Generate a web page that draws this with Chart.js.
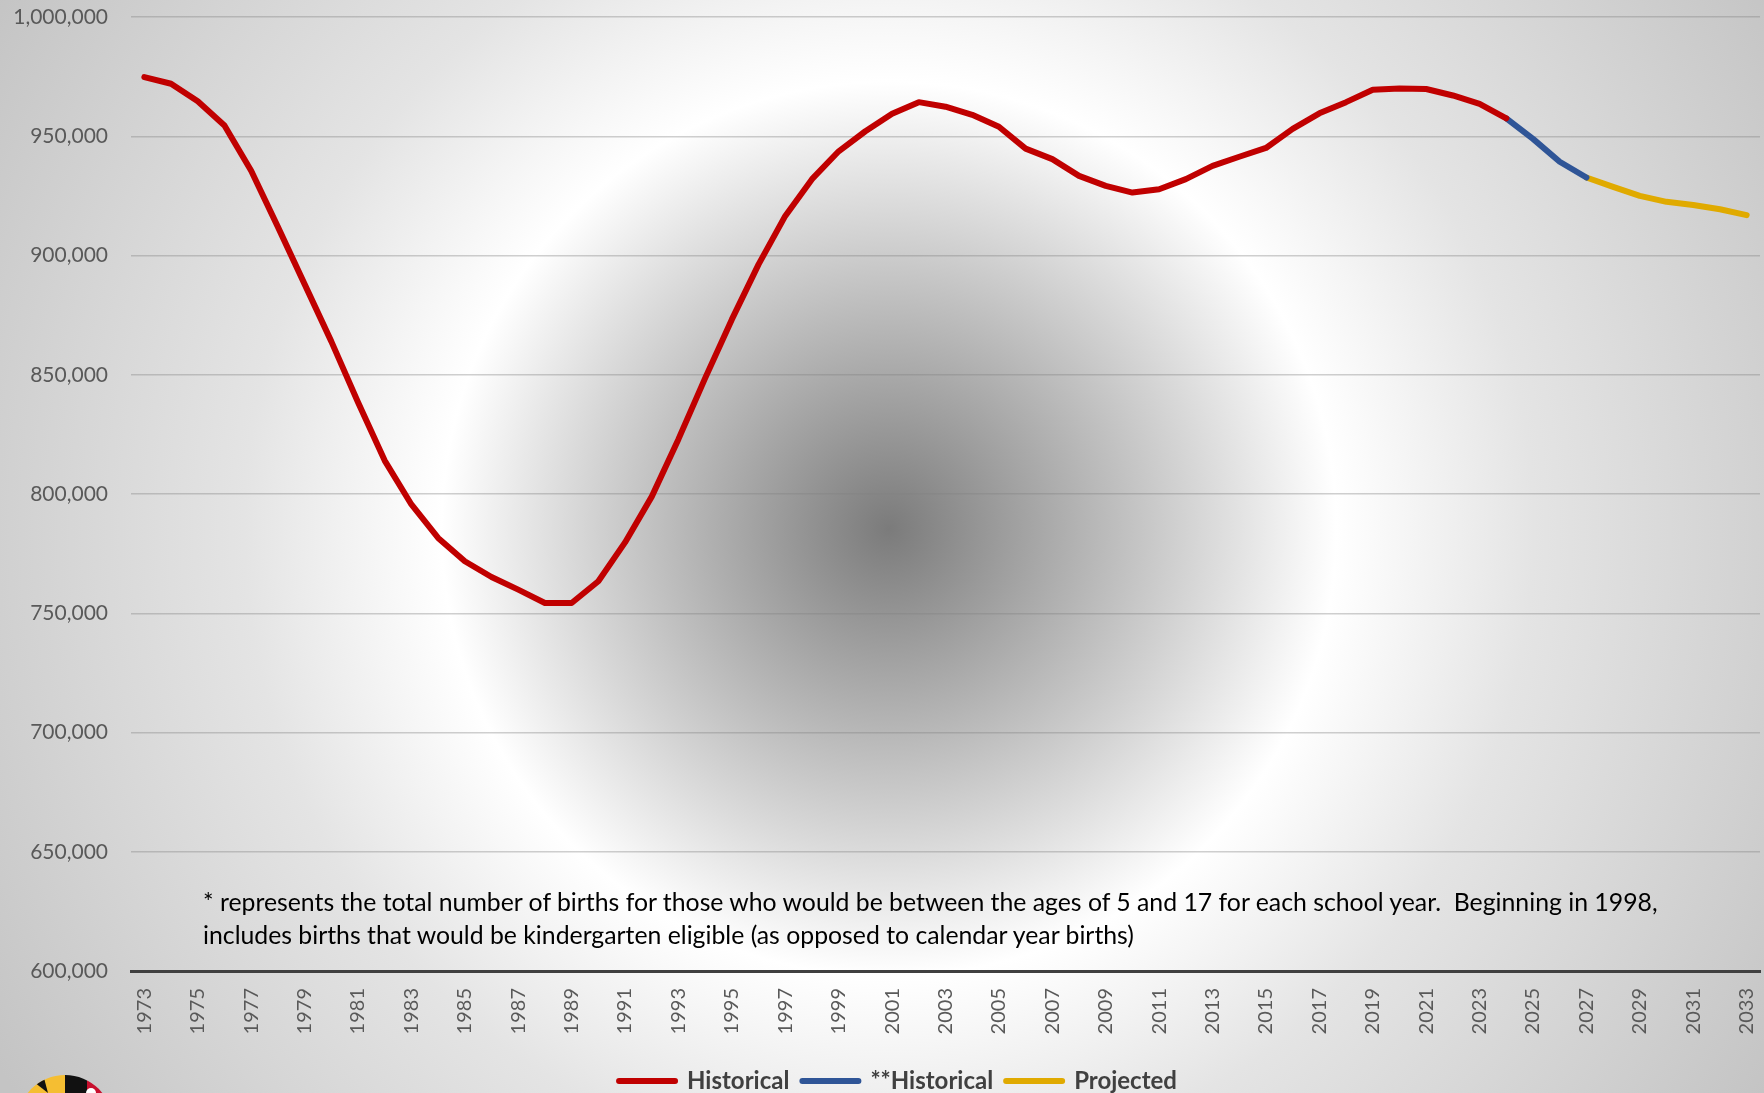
<!DOCTYPE html>
<html>
<head>
<meta charset="utf-8">
<title>Births</title>
<script src="https://cdn.jsdelivr.net/npm/chart.js@4.4.1/dist/chart.umd.min.js"></script>
<style>
    html, body { margin: 0; padding: 0; overflow: hidden; background: #d4d4d4; }
    #wrap { position: relative; width: 1764px; height: 1093px; }
    #births { position: absolute; left: 0; top: 0; }
    #note {
        position: absolute; left: 203px; top: 885px;
        font-family: Lato, sans-serif; font-size: 24.8px; line-height: 33px;
        color: #000; white-space: nowrap;
    }
</style>
</head>
<body>
<div id="wrap">
    <canvas id="births" width="1764" height="1103"></canvas>
    <div id="note">* represents the total number of births for those who would be between the ages of 5 and 17 for each school year.&nbsp; Beginning in 1998,<br>includes births that would be kindergarten eligible (as opposed to calendar year births)</div>
</div>
<script>
const years = [
    '1973', '1974', '1975', '1976', '1977', '1978', '1979', '1980', '1981', '1982',
    '1983', '1984', '1985', '1986', '1987', '1988', '1989', '1990', '1991', '1992',
    '1993', '1994', '1995', '1996', '1997', '1998', '1999', '2000', '2001', '2002',
    '2003', '2004', '2005', '2006', '2007', '2008', '2009', '2010', '2011', '2012',
    '2013', '2014', '2015', '2016', '2017', '2018', '2019', '2020', '2021', '2022',
    '2023', '2024', '2025', '2026', '2027', '2028', '2029', '2030', '2031', '2032',
    '2033'
];

// 1973 - 2024
const historical = [
    974800, 972000, 964700, 954500, 935500, 912000, 888000, 864000, 838500, 814000,
    795600, 781600, 771800, 765200, 759900, 754300, 754300, 763400, 779700, 798900,
    823000, 848600, 873200, 896300, 916600, 932000, 943700, 952100, 959400, 964300,
    962400, 959000, 954000, 944800, 940400, 933400, 929200, 926400, 927800, 932000,
    937600, 941400, 945100, 953100, 959600, 964300, 969500, 970000, 969800, 967100,
    963600, 957500
];

// 2024 - 2027
const historical2 = [957500, 948900, 939300, 932700];

// 2027 - 2033
const projected = [932700, 928800, 925000, 922500, 921200, 919400, 916900];

const yTicks = { min: 600000, max: 1000000, step: 50000 };

let birthsChart;

function placeSeries(values, firstYear) {
    const start = years.indexOf(firstYear);
    return years.map((y, i) => (i >= start && i < start + values.length) ? values[i - start] : null);
}

const backdrop = {
    id: 'backdrop',
    beforeDraw(chart) {
        const ctx = chart.ctx;
        const g = ctx.createRadialGradient(889, 529, 0, 889, 529, 1040);
        g.addColorStop(0, '#7b7b7b');
        g.addColorStop(0.43, '#ffffff');
        g.addColorStop(0.62, '#e4e4e4');
        g.addColorStop(1, '#c4c4c4');
        ctx.save();
        ctx.fillStyle = g;
        ctx.fillRect(0, 0, chart.width, chart.height);
        ctx.restore();
    }
};

// legend sits a bit right of the page centre in the original
const legendNudge = {
    id: 'legendNudge',
    afterLayout(chart) {
        chart.legend.left += 18;
        chart.legend.right += 18;
    }
};

// little state logo peeking in at the bottom left
const logo = {
    id: 'logo',
    afterDraw(chart) {
        const ctx = chart.ctx;
        ctx.save();
        ctx.beginPath();
        ctx.arc(65, 1123, 48, 0, Math.PI * 2);
        ctx.clip();
        ctx.fillStyle = '#f5be32';
        ctx.fillRect(17, 1075, 48, 60);
        ctx.fillStyle = '#111';
        ctx.fillRect(65, 1075, 22, 60);
        ctx.beginPath();
        ctx.moveTo(34, 1082); ctx.lineTo(44, 1078); ctx.lineTo(48, 1093); ctx.closePath();
        ctx.fill();
        ctx.fillStyle = '#c8102e';
        ctx.fillRect(87, 1075, 30, 60);
        ctx.fillStyle = '#fff';
        ctx.beginPath();
        ctx.arc(91, 1093, 5, 0, Math.PI * 2);
        ctx.fill();
        ctx.restore();
    }
};

function initializeChart() {
    const ctx = document.getElementById('births').getContext('2d');

    birthsChart = new Chart(ctx, {
        type: 'line',
        data: {
            labels: years,
            datasets: [{
                label: 'Historical',
                data: placeSeries(historical, '1973'),
                borderColor: '#c00000'
            }, {
                label: '**Historical',
                data: placeSeries(historical2, '2024'),
                borderColor: '#2f5597'
            }, {
                label: 'Projected',
                data: placeSeries(projected, '2027'),
                borderColor: '#e0aa00'
            }]
        },
        options: {
            responsive: false,
            animation: false,
            layout: { padding: { top: 17, right: 4, bottom: 0, left: 0 } },
            elements: {
                line: { borderWidth: 6, tension: 0, borderCapStyle: 'round', borderJoinStyle: 'round', fill: false },
                point: { radius: 0, hoverRadius: 0 }
            },
            plugins: {
                tooltip: { enabled: false },
                legend: {
                    position: 'bottom',
                    labels: {
                        usePointStyle: true,
                        pointStyleWidth: 56,
                        padding: 13,
                        color: '#404040',
                        font: { family: 'Lato', size: 24, weight: 'bold' },
                        generateLabels: chart => chart.data.datasets.map((ds, i) => ({
                            text: ds.label,
                            strokeStyle: ds.borderColor,
                            fillStyle: ds.borderColor,
                            fontColor: '#404040',
                            lineWidth: 6,
                            lineCap: 'round',
                            pointStyle: 'line',
                            hidden: false,
                            datasetIndex: i
                        }))
                    }
                }
            },
            scales: {
                x: {
                    offset: true,
                    grid: { display: false, drawTicks: false },
                    border: { color: '#404040', width: 3 },
                    ticks: {
                        autoSkip: false,
                        minRotation: 90,
                        maxRotation: 90,
                        padding: 17,
                        color: '#595959',
                        font: { family: 'Lato', size: 20 },
                        callback: (value, index) => index % 2 === 0 ? years[index] : ''
                    },
                    afterFit: scale => {
                        scale.height = 85;
                        scale.paddingLeft = 0;
                        scale.paddingRight = 0;
                    }
                },
                y: {
                    min: yTicks.min,
                    max: yTicks.max,
                    grid: { color: 'rgba(128, 128, 128, 0.38)', lineWidth: 1.5, drawTicks: false },
                    border: { display: false },
                    ticks: {
                        stepSize: yTicks.step,
                        padding: 23,
                        color: '#595959',
                        font: { family: 'Lato', size: 21 },
                        callback: v => v.toLocaleString('en-US')
                    },
                    afterFit: scale => {
                        scale.width = 131;
                        scale.paddingTop = 0;
                        scale.paddingBottom = 0;
                    }
                }
            }
        },
        plugins: [backdrop, legendNudge, logo]
    });
}

window.onload = () => {
    initializeChart();
};
</script>
</body>
</html>
